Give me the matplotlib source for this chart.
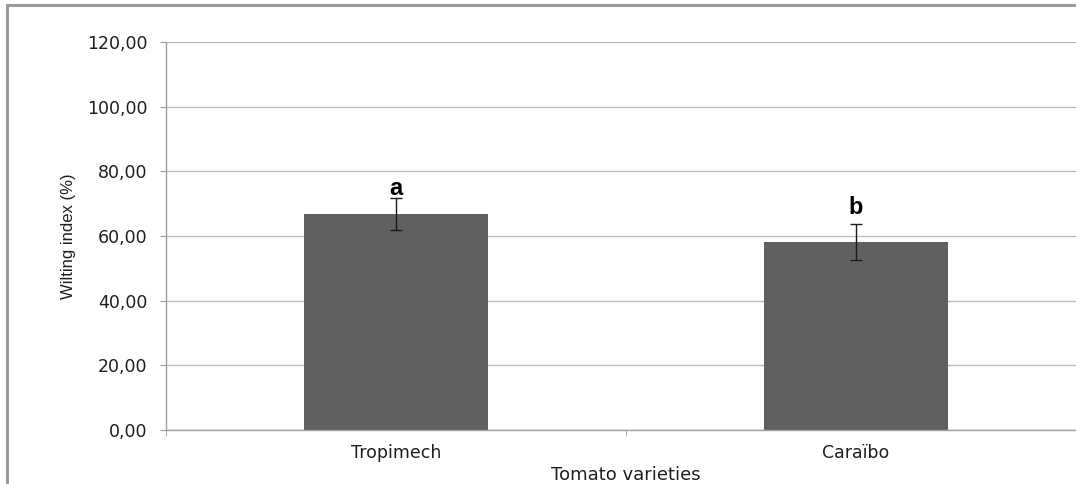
import matplotlib
matplotlib.use("Agg")
import matplotlib.pyplot as plt
from matplotlib.patches import Rectangle
import numpy as np

categories = ["Tropimech", "Caraïbo"]
means = [66.7, 58.1]
errors = [4.9, 5.55]
letters = ["a", "b"]
letter_offsets_px = [4, 11]
yticks = [0, 20, 40, 60, 80, 100, 120]
ytick_labels = ["0,00", "20,00", "40,00", "60,00", "80,00", "100,00", "120,00"]

W, H = 1076, 484
fig = plt.figure(figsize=(W / 100, H / 100), dpi=100)
fig.patch.set_facecolor("white")

# outer frame (partially visible)
fig.patches.append(Rectangle((6.5 / W, -0.2), 1.2, 1.2 - 5 / H,
                             transform=fig.transFigure, fill=False,
                             edgecolor="#9a9a9a", linewidth=2.2, zorder=0))

left, right, bottom, top = 166, 1086, 430, 42
ax = fig.add_axes([left / W, 1 - bottom / H, (right - left) / W, (bottom - top) / H])

x = np.arange(len(categories))
ax.bar(x, means, width=0.4, color="#606060", zorder=2)
ax.errorbar(x, means, yerr=errors, fmt="none", ecolor="#1a1a1a",
            elinewidth=1.0, capsize=4, capthick=1.0, zorder=3)

for xi, m, e, lab, off in zip(x, means, errors, letters, letter_offsets_px):
    ax.annotate(lab, (xi, m + e), xytext=(0, off * 0.72 + 4), textcoords="offset points",
                ha="center", va="center", fontsize=17, fontweight="bold",
                family="Liberation Sans", color="black")

ax.set_xlim(-0.5, 1.5)
ax.set_ylim(0, 120)
ax.set_yticks(yticks)
ax.set_yticklabels(ytick_labels)
ax.yaxis.grid(True, color="#bdbdbd", linewidth=1.0, zorder=0)
ax.set_axisbelow(True)

for s in ["top", "right"]:
    ax.spines[s].set_visible(False)
ax.spines["left"].set_color("#a0a0a0")
ax.spines["bottom"].set_color("#a0a0a0")
ax.spines["left"].set_linewidth(1.0)
ax.spines["bottom"].set_linewidth(1.0)

ax.tick_params(axis="y", length=4.5, color="#a0a0a0", pad=9,
               labelsize=12.5, labelcolor="#1e1e1e")
for t in ax.get_yticklabels():
    t.set_family("DejaVu Sans")

ax.set_xticks(x)
ax.set_xticklabels(categories)
ax.set_xticks([-0.5, 0.5, 1.5], minor=True)
ax.tick_params(axis="x", which="major", length=0, pad=10, labelsize=12.5,
               labelcolor="#1e1e1e")
ax.tick_params(axis="x", which="minor", length=4.5, color="#a0a0a0")
for t in ax.get_xticklabels():
    t.set_family("DejaVu Sans")

ax.set_ylabel("Wilting index (%)", fontsize=12, family="Liberation Sans",
              color="#1e1e1e")
ax.yaxis.set_label_coords((69 - left) / (right - left), 0.5)
ax.yaxis.label.set_va("center")

ax.set_xlabel("Tomato varieties", fontsize=13, family="DejaVu Sans",
              color="#1e1e1e")
ax.xaxis.set_label_coords(0.5, (bottom - 475) / (bottom - top))
ax.xaxis.label.set_va("center")

fig.savefig("out.png", dpi=100)
